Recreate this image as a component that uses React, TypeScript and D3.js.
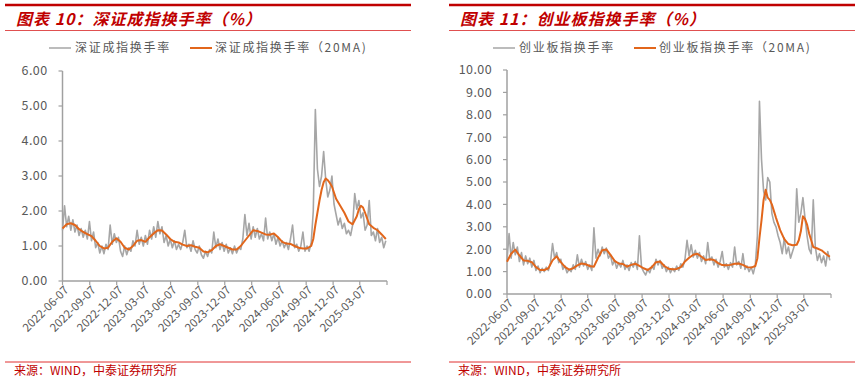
import React from 'react';
import * as d3 from 'd3';

const START = '2022-06-07';
const END = '2025-06-07';
const xTickLabels = ['2022-06-07','2022-09-07','2022-12-07','2023-03-07','2023-06-07','2023-09-07','2023-12-07','2024-03-07','2024-06-07','2024-09-07','2024-12-07','2025-03-07'];
const leftYTicks = [0, 1, 2, 3, 4, 5, 6];
const rightYTicks = [0, 1, 2, 3, 4, 5, 6, 7, 8, 9, 10];

// 深证成指换手率 weekly readings
const szTurnover = [
  1.45,2.15,1.55,1.85,1.45,1.75,1.40,1.60,1.30,1.50,1.25,1.45,1.20,1.70,1.15,1.40,0.95,1.10,0.80,1.00,
  0.78,1.05,0.90,1.60,1.05,1.35,1.10,1.25,0.85,0.70,1.00,0.75,0.95,0.85,1.15,1.00,1.45,1.05,1.25,1.00,
  1.30,1.05,1.45,1.20,1.55,1.25,1.70,1.35,1.55,1.10,1.30,1.00,1.20,0.95,1.15,0.90,1.05,0.90,1.10,1.45,
  0.95,1.05,0.85,1.15,0.90,0.80,1.00,0.75,0.65,0.85,0.70,0.90,0.80,1.40,0.95,1.20,0.90,1.10,0.85,1.05,
  0.80,0.95,0.78,1.00,0.80,0.95,0.90,1.20,1.90,1.30,1.65,1.20,1.55,1.25,1.50,1.20,1.35,1.15,1.80,1.20,
  1.40,1.15,1.35,1.05,1.25,1.00,1.15,0.95,1.10,0.90,1.20,1.60,0.95,1.05,0.85,1.00,1.40,0.85,1.00,0.85,
  1.10,2.00,4.90,3.20,2.70,3.00,3.70,2.90,2.40,2.60,3.00,2.20,1.90,1.60,1.80,1.50,1.65,1.35,1.45,1.30,
  1.60,2.50,2.05,2.30,1.80,1.95,1.45,1.60,2.30,1.30,1.40,1.15,1.50,1.10,1.25,0.95,1.15
];
// 深证成指换手率（20MA） [week, value]
const szMA = [
  [0,1.50],[2,1.62],[4,1.65],[6,1.60],[8,1.48],[10,1.40],[12,1.34],[14,1.28],[16,1.15],[18,1.00],[20,0.93],
  [22,0.95],[24,1.12],[26,1.22],[28,1.12],[30,0.95],[32,0.90],[34,1.00],[36,1.15],[38,1.17],[40,1.12],
  [42,1.25],[44,1.36],[46,1.45],[48,1.44],[50,1.33],[52,1.20],[54,1.12],[56,1.10],[58,1.04],[60,1.00],
  [62,1.02],[64,0.98],[66,0.95],[68,0.84],[70,0.82],[72,0.88],[74,1.00],[76,1.05],[78,1.00],[80,0.95],
  [82,0.90],[84,0.90],[86,1.00],[88,1.15],[90,1.30],[92,1.45],[94,1.43],[96,1.38],[98,1.33],[100,1.32],
  [102,1.36],[104,1.25],[106,1.12],[108,1.07],[110,1.06],[112,1.00],[114,0.95],[116,0.93],[118,0.93],
  [120,1.00],[121,1.20],[122,1.60],[123,1.95],[124,2.30],[125,2.60],[126,2.82],[127,2.93],[128,2.88],
  [129,2.80],[130,2.70],[132,2.35],[134,2.15],[136,1.95],[138,1.70],[140,1.62],[142,1.85],[143,2.05],
  [144,2.15],[145,2.10],[146,1.95],[148,1.62],[150,1.52],[152,1.45],[154,1.33],[156,1.20]
];

// 创业板指换手率 weekly readings
const cyTurnover = [
  1.50,2.70,1.60,2.30,1.75,2.10,1.45,1.85,1.30,1.70,1.35,1.60,1.20,1.50,1.05,1.25,0.95,1.15,1.00,1.20,
  1.05,1.40,2.25,1.60,1.85,1.40,1.55,1.10,1.25,0.95,1.10,1.00,1.30,1.10,1.75,1.20,1.55,1.25,1.45,1.10,
  1.30,1.05,2.95,1.60,2.00,1.70,2.10,1.80,2.05,1.60,1.75,1.30,1.50,1.15,1.40,1.20,1.50,1.10,1.30,1.05,
  1.40,1.20,1.45,1.10,2.60,1.20,1.00,0.85,1.10,0.95,1.25,1.10,1.55,1.30,1.50,1.15,1.30,1.00,1.20,0.95,
  1.15,1.00,1.25,1.05,1.35,1.20,1.55,2.40,1.70,2.20,1.65,1.95,1.60,1.85,1.45,1.70,1.35,2.30,1.50,1.65,
  1.30,1.55,1.20,1.45,1.90,1.20,1.35,1.10,1.40,1.20,2.10,1.30,1.45,1.15,1.80,1.10,1.25,1.00,1.20,0.90,
  1.30,2.60,8.60,6.00,4.60,4.20,5.20,5.00,3.60,3.20,3.00,2.60,2.30,1.80,2.50,1.80,2.10,1.60,1.90,2.20,
  4.70,3.20,3.60,4.30,3.40,2.60,2.00,1.80,4.20,2.10,1.50,1.80,1.40,1.70,1.25,1.90,1.50
];
// 创业板指换手率（20MA） [week, value]
const cyMA = [
  [0,1.44],[2,1.80],[4,1.98],[6,1.72],[8,1.50],[10,1.48],[12,1.42],[14,1.20],[16,1.07],[18,1.07],[20,1.15],
  [22,1.50],[24,1.68],[26,1.42],[28,1.21],[30,1.09],[32,1.15],[34,1.28],[36,1.36],[38,1.33],[40,1.25],
  [42,1.22],[44,1.62],[46,1.95],[48,1.99],[50,1.75],[52,1.48],[54,1.36],[56,1.34],[58,1.22],[60,1.30],
  [62,1.35],[64,1.26],[66,1.15],[68,1.07],[70,1.20],[72,1.42],[74,1.45],[76,1.25],[78,1.13],[80,1.10],
  [82,1.12],[84,1.20],[86,1.45],[88,1.62],[90,1.75],[92,1.80],[94,1.66],[96,1.52],[98,1.55],[100,1.52],
  [102,1.38],[104,1.29],[106,1.28],[108,1.30],[110,1.35],[112,1.36],[114,1.30],[116,1.20],[118,1.18],
  [120,1.25],[121,1.60],[122,2.50],[123,3.30],[124,4.20],[125,4.65],[126,4.30],[127,4.20],[128,4.00],
  [130,3.40],[132,2.85],[134,2.45],[136,2.23],[138,2.18],[140,2.20],[141,2.40],[142,2.80],[143,3.47],
  [144,3.35],[145,3.10],[146,2.70],[148,2.10],[150,2.03],[152,1.95],[154,1.80],[156,1.66]
];

const parse = d3.timeParse('%Y-%m-%d');
const startDate = parse(START) as Date;
const endDate = parse(END) as Date;
const weekDate = (w: number) => d3.timeDay.offset(startDate, 7 * w);

const GRAY = '#a6a6a6';
const ORANGE = '#e2661b';
const RED = '#c00000';
const AXIS = '#a0a0a0';
const TXT = '#595959';
const FONT = '"Noto Sans CJK SC", "Noto Sans", sans-serif';

type PanelProps = {
  ox: number;
  title: string;
  name: string;
  raw: number[];
  ma: number[][];
  yTicks: number[];
  left: number;
  right: number;
  top: number;
  bottom: number;
  legendX: number;
};

function Panel(p: PanelProps) {
  const x = d3.scaleTime().domain([startDate, endDate]).range([p.left, p.right]);
  const yMax = p.yTicks[p.yTicks.length - 1];
  const y = d3.scaleLinear().domain([0, yMax]).range([p.bottom, p.top]);
  const rawLine = d3.line<number>().x((_, i) => x(weekDate(i))).y((v) => y(v));
  const maLine = d3.line<number[]>().x((d) => x(weekDate(d[0]))).y((d) => y(d[1]));
  const tickDates = [...xTickLabels.map((s) => parse(s) as Date), endDate];
  const lx = p.legendX;
  return (
    <g>
      <line x1={p.ox} x2={p.ox + 406} y1={5} y2={5} stroke={RED} strokeWidth={2.5} />
      <text x={p.ox + 11} y={25} fill={RED} fontSize={16} fontWeight="bold" fontStyle="italic" fontFamily={FONT} letterSpacing={1}>
        {p.title}
      </text>
      <line x1={p.ox} x2={p.ox + 406} y1={30.5} y2={30.5} stroke="#e05050" strokeWidth={1} />
      {/* legend */}
      <line x1={lx} x2={lx + 22} y1={48} y2={48} stroke={GRAY} strokeWidth={1.5} />
      <text x={lx + 26} y={52} fill={TXT} fontSize={12} fontFamily={FONT} letterSpacing={1.7}>{p.name}</text>
      <line x1={lx + 141} x2={lx + 163} y1={48} y2={48} stroke={ORANGE} strokeWidth={2} />
      <text x={lx + 166} y={52} fill={TXT} fontSize={12} fontFamily={FONT} letterSpacing={1.7}>{p.name + '（20MA)'}</text>
      {/* axes */}
      <line x1={p.left} x2={p.left} y1={p.top} y2={p.bottom} stroke={AXIS} strokeWidth={1.5} />
      <line x1={p.left} x2={p.right} y1={p.bottom} y2={p.bottom} stroke={AXIS} strokeWidth={1.5} />
      {p.yTicks.map((t) => (
        <g key={'y' + t}>
          <line x1={p.left - 4} x2={p.left} y1={y(t)} y2={y(t)} stroke={AXIS} strokeWidth={1.2} />
          <text x={p.left - 15} y={y(t)} dy="0.35em" textAnchor="end" fill={TXT} fontSize={12.5} fontFamily={FONT} letterSpacing={0.4}>
            {d3.format('.2f')(t)}
          </text>
        </g>
      ))}
      {tickDates.map((d, i) => (
        <g key={'x' + i}>
          <line x1={x(d)} x2={x(d)} y1={p.bottom} y2={p.bottom + 4} stroke={AXIS} strokeWidth={1.2} />
          {i < xTickLabels.length && (
            <text
              transform={`translate(${x(d) + 4},${p.bottom + 7}) rotate(-45)`}
              textAnchor="end"
              dy="0.35em"
              fill={TXT}
              fontSize={11.5}
              fontFamily={FONT}
            >
              {xTickLabels[i]}
            </text>
          )}
        </g>
      ))}
      <path d={rawLine(p.raw) || ''} fill="none" stroke={GRAY} strokeWidth={1.6} strokeLinejoin="round" />
      <path d={maLine(p.ma) || ''} fill="none" stroke={ORANGE} strokeWidth={2} strokeLinejoin="round" />
      {/* source */}
      <line x1={p.ox} x2={p.ox + 406} y1={362} y2={362} stroke="#e03030" strokeWidth={1} />
      <text x={p.ox + 9} y={375} fill={RED} fontSize={12} fontFamily={FONT}>来源：WIND，中泰证券研究所</text>
    </g>
  );
}

export default function App() {
  return (
    <svg width={862} height={377} style={{ position: 'absolute', left: 0, top: 0, background: '#fff' }}>
      <Panel ox={5} title="图表 10：深证成指换手率（%）" name="深证成指换手率" raw={szTurnover} ma={szMA}
        yTicks={leftYTicks} left={62.5} right={387} top={71} bottom={281} legendX={49} />
      <Panel ox={449} title="图表 11：创业板指换手率（%）" name="创业板指换手率" raw={cyTurnover} ma={cyMA}
        yTicks={rightYTicks} left={507} right={831} top={70} bottom={294} legendX={493} />
    </svg>
  );
}
